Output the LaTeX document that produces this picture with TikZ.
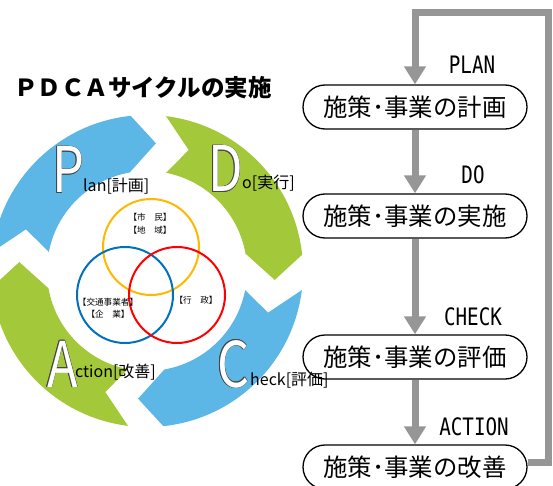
\documentclass[tikz,border=0pt]{standalone}
\usepackage{fontspec}
\usetikzlibrary{arrows.meta,calc}
\newfontfamily\jp{Noto Sans CJK JP}
\newfontfamily\monofnt{DejaVu Sans Mono}
\definecolor{ringblue}{RGB}{92,182,230}
\definecolor{ringgreen}{RGB}{163,201,58}
\definecolor{arrowgray}{RGB}{150,150,150}
\definecolor{venny}{RGB}{255,184,0}
\definecolor{vennb}{RGB}{0,112,192}
\definecolor{vennr}{RGB}{255,0,0}
\definecolor{olgray}{RGB}{70,70,70}
\newcommand\olcopy[3]{\rlap{\hspace*{#1}\raisebox{#2}{\textcolor{olgray}{#3}}}}
\newcommand\outl[1]{\leavevmode
  \olcopy{0.9pt}{0pt}{#1}\olcopy{-0.9pt}{0pt}{#1}\olcopy{0pt}{0.9pt}{#1}\olcopy{0pt}{-0.9pt}{#1}%
  \olcopy{0.64pt}{0.64pt}{#1}\olcopy{-0.64pt}{0.64pt}{#1}\olcopy{0.64pt}{-0.64pt}{#1}\olcopy{-0.64pt}{-0.64pt}{#1}%
  \textcolor{white}{#1}}
\newcommand\cyclearrow[3]{%
  \fill[#1] ($(cc)+(#2:156)$) arc[start angle=#2, end angle=#3, radius=156]
    -- ($(cc)+({#3-10}:128)$) -- ($(cc)+({#3+4}:100)$)
    arc[start angle={#3+4}, end angle={#2-4}, radius=100]
    -- ($(cc)+({#2-12}:128)$) -- cycle;}
\tikzset{
  flowbox/.style={draw=black, line width=1.3pt, rounded corners=22pt, minimum width=224pt,
    minimum height=44pt, inner sep=0pt, font=\jp\fontsize{24.4}{25}\selectfont},
  flowarrow/.style={draw=arrowgray, line width=7pt, -{Triangle[width=21pt,length=18pt]}},
  steplbl/.style={font=\monofnt\fontsize{24}{24}\selectfont, inner sep=0pt},
  bigletter/.style={font=\jp\fontsize{63}{63}\selectfont, inner sep=0pt, anchor=base west},
  smalllbl/.style={font=\jp\fontsize{16}{16}\selectfont, inner sep=0pt, anchor=base west},
  vennlbl/.style={font=\jp\fontsize{8.6}{9}\selectfont, inner sep=0pt},
  venncircle/.style={line width=2pt}
}
\begin{document}
\begin{tikzpicture}[x=1pt,y=1pt]
\useasboundingbox (0,0) rectangle (553,-486);
\coordinate (cc) at (147,-271);
% cycle arrows
\cyclearrow{ringblue}{173}{96}
\cyclearrow{ringgreen}{83}{6}
\cyclearrow{ringblue}{-7}{-84}
\cyclearrow{ringgreen}{-97}{-174}
% title
\node[font=\jp\bfseries\fontsize{23.5}{24}\selectfont, inner sep=0pt] (title) at (143,-88) {ＰＤＣＡサイクルの実施};
% venn
\draw[venncircle, venny] (151,-247) circle[radius=48];
\draw[venncircle, vennb] (125,-295) circle[radius=48];
\draw[venncircle, vennr] (177,-295) circle[radius=48];
\node[vennlbl] (v1) at (150,-217) {【市　民】};
\node[vennlbl] (v2) at (150,-230) {【地　域】};
\node[vennlbl] (v3) at (108,-302) {【交通事業者】};
\node[vennlbl] (v4) at (108,-314) {【企　業】};
\node[vennlbl] (v5) at (196,-300) {【行　政】};
% big letters
\node[bigletter] (P) at (52,-193) {\scalebox{0.8}[1]{\outl{P}}};
\node[bigletter] (D) at (208,-192) {\scalebox{0.8}[1]{\outl{D}}};
\node[bigletter] (A) at (47,-387) {\scalebox{0.8}[1]{\outl{A}}};
\node[bigletter] (C) at (217,-387) {\scalebox{0.8}[1]{\outl{C}}};
\node[smalllbl] (lan) at (83,-192) {lan[計画]};
\node[smalllbl] (o) at (242,-189) {o[実行]};
\node[smalllbl] (ction) at (75,-377) {ction[改善]};
\node[smalllbl] (heck) at (250,-385) {heck[評価]};
% flow
\node[flowbox] (b1) at (415,-107) {施策･事業の計画};
\node[flowbox] (b2) at (415,-216) {施策･事業の実施};
\node[flowbox] (b3) at (415,-357) {施策･事業の評価};
\node[flowbox] (b4) at (415,-467) {施策･事業の改善};
\node[steplbl] (lplan) at (472,-65) {\scalebox{0.8}[1]{PLAN}};
\node[steplbl] (ldo) at (473,-175) {\scalebox{0.8}[1]{DO}};
\node[steplbl] (lcheck) at (473,-317) {\scalebox{0.8}[1]{CHECK}};
\node[steplbl] (laction) at (474,-427) {\scalebox{0.8}[1]{ACTION}};
\coordinate (tr) at (548,-13);
\draw[flowarrow] (b1.south) -- (b2.north);
\draw[flowarrow] (b2.south) -- (b3.north);
\draw[flowarrow] (b3.south) -- (b4.north);
\draw[flowarrow] ([yshift=5pt]b4.east) -| (tr) -| (b1.north);
\end{tikzpicture}
\end{document}
